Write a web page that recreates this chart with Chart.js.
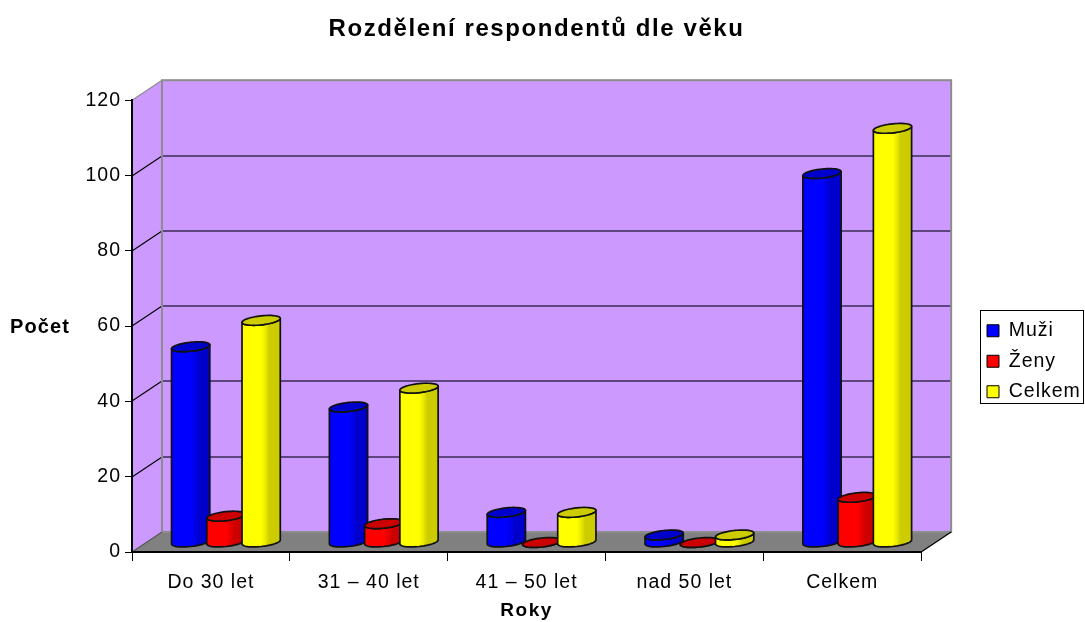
<!DOCTYPE html>
<html>
<head>
<meta charset="utf-8">
<style>html,body{margin:0;padding:0;background:#fff;overflow:hidden}canvas{display:block}</style>
<script src="https://cdn.jsdelivr.net/npm/chart.js@4/dist/chart.umd.min.js"></script>
</head>
<body>
<canvas id="c" width="1085" height="622"></canvas>
<script>
const chartTitle = "Rozdělení respondentů dle věku";
const categories = ["Do 30 let", "31 – 40 let", "41 – 50 let", "nad 50 let", "Celkem"];
const muzi = [52, 36, 8, 2, 98];
const zeny = [7, 5, 0, 0, 12];
const celkem = [59, 41, 8, 2, 110];
const seriesNames = ["Muži", "Ženy", "Celkem"];
const seriesColors = ["#0000FF", "#FF0000", "#FFFF00"];
const seriesDark = ["#0000CC", "#CC0000", "#CCCC00"];
const yTitle = "Počet";
const xTitle = "Roky";
const FONT = "'Liberation Sans', Arial, sans-serif";
const DX = 30, DY = -20;

function mix(a, b, t) {
  const p = h => [1, 3, 5].map(i => parseInt(h.substr(i, 2), 16));
  const A = p(a), B = p(b);
  return "rgb(" + A.map((v, i) => Math.round(v + (B[i] - v) * t)).join(",") + ")";
}
function cylinder(ctx, cx, top, base, r, col, dark) {
  const ry = 4.5, k = 2;
  const ptTop = t => [cx + r * Math.cos(t), top + ry * Math.sin(t) - k * Math.cos(t)];
  const ptBase = t => [cx + r * Math.cos(t), base + ry * Math.sin(t) - k * Math.cos(t)];
  const g = ctx.createLinearGradient(cx - r, 0, cx + r, 0);
  g.addColorStop(0, col); g.addColorStop(0.5, col);
  g.addColorStop(0.6, mix(col, dark, 0.35));
  g.addColorStop(0.72, dark); g.addColorStop(1, dark);
  ctx.lineWidth = 1.7; ctx.strokeStyle = "#111"; ctx.lineJoin = "round";
  ctx.beginPath();
  for (let i = 0; i <= 24; i++) { const p = ptBase(Math.PI * i / 24); i ? ctx.lineTo(p[0], p[1]) : ctx.moveTo(p[0], p[1]); }
  for (let i = 24; i >= 0; i--) { const p = ptTop(Math.PI * i / 24); ctx.lineTo(p[0], p[1]); }
  ctx.closePath(); ctx.fillStyle = g; ctx.fill(); ctx.stroke();
  ctx.beginPath();
  for (let i = 0; i <= 48; i++) { const p = ptTop(2 * Math.PI * i / 48); i ? ctx.lineTo(p[0], p[1]) : ctx.moveTo(p[0], p[1]); }
  ctx.closePath(); ctx.fillStyle = dark; ctx.fill(); ctx.stroke();
}
function withSpacing(box, method, spacing) {
  const orig = box[method];
  box[method] = function (...args) {
    const ctx = this.ctx;
    ctx.letterSpacing = spacing;
    orig.apply(this, args);
    ctx.letterSpacing = "1px";
  };
}
const scene = {
  id: "scene",
  afterLayout(chart) {
    const l = chart.legend;
    l.left = 976; l.right = 1085; l.top = 310; l.bottom = 622; l.width = 109; l.height = 312;
    const t = chart.titleBlock; t.left += 21.5; t.right += 21.5;
    withSpacing(t, "draw", "1.6px");
    withSpacing(chart.scales.x, "drawTitle", "1.5px");
  },
  beforeDraw(chart) {
    const { ctx, chartArea: a, scales: { y } } = chart;
    ctx.letterSpacing = "1px";
    ctx.save();
    ctx.fillStyle = "#CC99FF";
    ctx.fillRect(a.left + DX, a.top + DY, a.width, a.height);
    ctx.beginPath();
    ctx.moveTo(a.left, a.top); ctx.lineTo(a.left + DX, a.top + DY);
    ctx.lineTo(a.left + DX, a.bottom + DY); ctx.lineTo(a.left, a.bottom); ctx.closePath(); ctx.fill();
    ctx.fillStyle = "#808080";
    ctx.beginPath();
    ctx.moveTo(a.left, a.bottom); ctx.lineTo(a.right, a.bottom);
    ctx.lineTo(a.right + DX, a.bottom + DY); ctx.lineTo(a.left + DX, a.bottom + DY); ctx.closePath(); ctx.fill();
    y.ticks.forEach(t => {
      if (t.value === 0 || t.value === y.max) return;
      const py = Math.round(y.getPixelForValue(t.value));
      ctx.lineWidth = 1.2;
      ctx.strokeStyle = "#000";
      ctx.beginPath(); ctx.moveTo(a.left, py); ctx.lineTo(a.left + DX, py + DY); ctx.stroke();
      ctx.strokeStyle = "#3a2a55"; ctx.lineWidth = 1.5;
      ctx.beginPath(); ctx.moveTo(a.left + DX, py + DY); ctx.lineTo(a.right + DX, py + DY); ctx.stroke();
    });
    ctx.strokeStyle = "#8c8c8c"; ctx.lineWidth = 2;
    ctx.strokeRect(a.left + DX, a.top + DY, a.width, a.height);
    ctx.lineWidth = 1.2;
    ctx.beginPath(); ctx.moveTo(a.left, a.top); ctx.lineTo(a.left + DX, a.top + DY); ctx.stroke();
    ctx.strokeStyle = "#555";
    ctx.beginPath(); ctx.moveTo(a.left, a.bottom); ctx.lineTo(a.left + DX, a.bottom + DY); ctx.stroke();
    ctx.strokeStyle = "#000"; ctx.lineWidth = 1.2;
    ctx.beginPath(); ctx.moveTo(a.right, a.bottom); ctx.lineTo(a.right + DX, a.bottom + DY); ctx.stroke();
    ctx.restore();
  },
  beforeDatasetDraw() { return false; },
  beforeDatasetsDraw(chart) {
    const ctx = chart.ctx;
    ctx.save();
    chart.data.datasets.forEach((ds, i) => {
      chart.getDatasetMeta(i).data.forEach(bar => {
        const r = bar.width / 2 + 1.5;
        cylinder(ctx, bar.x + DX / 2, bar.y + DY / 2 + 0.5, bar.base + DY / 2 + 0.5, r, seriesColors[i], seriesDark[i]);
      });
    });
    ctx.restore();
  },
  afterDraw(chart) {
    const ctx = chart.ctx;
    ctx.save();
    ctx.strokeStyle = "#000"; ctx.lineWidth = 1;
    ctx.strokeRect(980.5, 310.5, 103, 93);
    ctx.fillStyle = "#000"; ctx.font = "bold 20px " + FONT;
    ctx.textAlign = "left"; ctx.textBaseline = "middle";
    ctx.letterSpacing = "1.1px";
    ctx.fillText(yTitle, 10, 327.5);
    ctx.restore();
  }
};
new Chart(document.getElementById("c"), {
  type: "bar",
  data: {
    labels: categories,
    datasets: [muzi, zeny, celkem].map((d, i) => ({
      label: seriesNames[i], data: d,
      backgroundColor: seriesColors[i], borderColor: "#000", borderWidth: 1
    }))
  },
  plugins: [scene],
  options: {
    responsive: false, animation: false,
    layout: { padding: { left: 0, right: 55, top: 0, bottom: 0 } },
    datasets: { bar: { categoryPercentage: 0.67, barPercentage: 1 } },
    plugins: {
      tooltip: { enabled: false },
      title: {
        display: true, text: chartTitle, color: "#000",
        font: { family: FONT, size: 24, weight: "bold" },
        padding: { top: 15, bottom: 56.4 }
      },
      legend: {
        position: "right", align: "start",
        labels: {
          color: "#000", boxWidth: 12, boxHeight: 12, padding: 11,
          font: { family: FONT, size: 19.5 }
        }
      }
    },
    scales: {
      x: {
        afterFit(s) { s.height = 70; },
        grid: { drawOnChartArea: false, drawTicks: true, tickLength: 9, color: "#000", offset: true },
        border: { color: "#000", width: 2 },
        ticks: { color: "#000", font: { family: FONT, size: 19.5 }, padding: 10, maxRotation: 0, autoSkip: false },
        title: { display: true, text: xTitle, color: "#000", font: { family: FONT, size: 19, weight: "bold" }, padding: { top: 4, bottom: 0 } }
      },
      y: {
        min: 0, max: 120,
        afterFit(s) { s.width = 132; },
        grid: { drawOnChartArea: false, drawTicks: true, tickLength: 7, color: "#000" },
        border: { color: "#000", width: 2 },
        ticks: { stepSize: 20, color: "#000", font: { family: FONT, size: 19.5 }, padding: 4 }
      }
    }
  }
});
</script>
</body>
</html>
